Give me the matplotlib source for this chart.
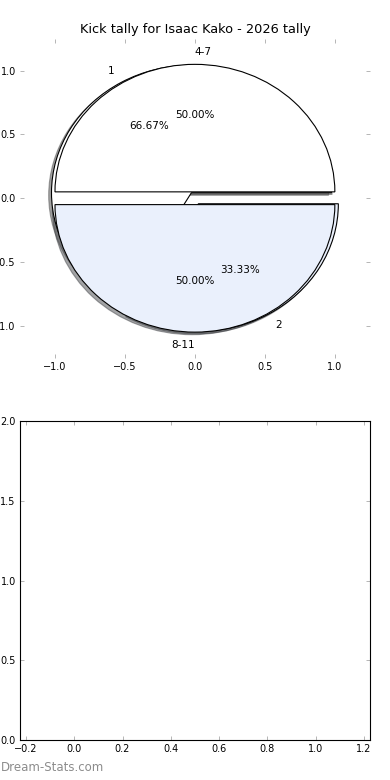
# Kick tally pie chart (two overlaid pies) plus an empty second panel
import matplotlib
matplotlib.use('Agg')
import matplotlib.pyplot as plt
import numpy as np

title = 'Kick tally for Isaac Kako - 2026 tally'

# kick distance bands
band_labels = ['4-7', '8-11']
band_values = [1, 1]

# kick count categories
count_labels = ['1', '2']
count_values = [2, 1]

pie_colors = ['white', '#eaf0fc']

plt.rcParams['font.size'] = 7
plt.rcParams['xtick.direction'] = 'in'
plt.rcParams['ytick.direction'] = 'in'
plt.rcParams['xtick.top'] = True
plt.rcParams['ytick.right'] = True

fig = plt.figure(figsize=(3.9, 7.8), dpi=100)
ax1 = fig.add_axes([0.0513, 0.5415, 0.897, 0.4087])
ax2 = fig.add_axes([0.051, 0.051, 0.898, 0.409])

# old-style shadow: offset of 0.02 data units (modern Shadow scales by dpi/72)
shadow_opts = {'ox': -0.0144, 'oy': -0.0144}
wedge_opts = {'linewidth': 0.8, 'edgecolor': 'black'}
text_opts = {'fontsize': 7.5}

ax1.pie(count_values, labels=count_labels, colors=pie_colors,
        explode=[0.05] * len(count_values), autopct='%.2f%%',
        shadow=shadow_opts, wedgeprops=wedge_opts, textprops=text_opts)
wedges, band_texts, _ = ax1.pie(band_values, labels=band_labels,
                                colors=pie_colors,
                                explode=[0.05] * len(band_values),
                                autopct='%.2f%%', shadow=shadow_opts,
                                wedgeprops=wedge_opts, textprops=text_opts)
# labels sitting on the vertical axis: top one left-aligned, bottom one right
for t in band_texts:
    t.set_ha('left' if t.get_position()[1] > 0 else 'right')

ax1.set_aspect('auto')
ax1.set_xlim(-1.25, 1.25)
ax1.set_ylim(-1.25, 1.25)
ax1.set_xticks(np.arange(-1.0, 1.01, 0.5))
ax1.set_yticks(np.arange(-1.0, 1.01, 0.5))
ax1.set_frame_on(False)
ax1.set_title(title, fontsize=9.3, pad=4)

ax2.set_xlim(-0.225, 1.225)
ax2.set_ylim(0, 2)
ax2.set_xticks(np.arange(-0.2, 1.21, 0.2))
ax2.set_yticks(np.arange(0, 2.01, 0.5))

for ax in (ax1, ax2):
    ax.tick_params(which='both', length=3, width=0.6, color='#aaaaaa',
                   labelsize=7, pad=3)

fig.text(0.002, 0.011, 'Dream-Stats.com', color='#8c8c8c', fontsize=8.5)

fig.savefig('out.png', dpi=100, facecolor='white')
